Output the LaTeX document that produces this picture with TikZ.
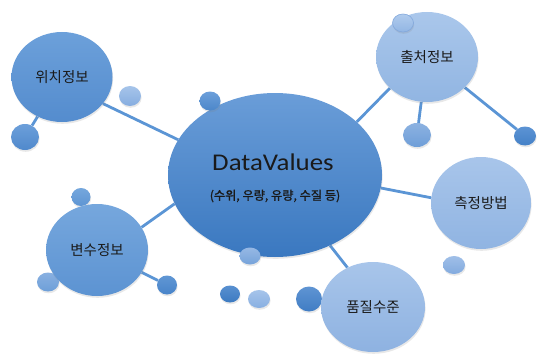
\documentclass[tikz,border=0pt]{standalone}
\usepackage{fontspec}
\setmainfont{Carlito}
\newfontfamily\dv[FakeStretch=1.12]{Carlito}
\newfontfamily\kr{Noto Sans CJK KR}
\newfontfamily\krb[FakeBold=1.3]{Noto Sans CJK KR}
\usetikzlibrary{shapes.geometric,shadows,backgrounds}
\definecolor{lnk}{HTML}{5B95D5}
\definecolor{txt}{HTML}{1A1A1A}
\tikzset{
  bub/.style={ellipse, inner sep=0pt, draw=none,
    drop shadow={opacity=0.18, shadow xshift=0.6pt, shadow yshift=-1.8pt}},
  lbl/.style={text=txt, font=\kr\fontsize{14.5}{16}\selectfont},
  conn/.style={draw=lnk, line width=2.8pt},
}
\begin{document}
\begin{tikzpicture}[x=1pt,y=-1pt]
\useasboundingbox (0,0) rectangle (540,361);

% bubbles behind main circles
\node[bub, top color={rgb,255:red,117;green,167;blue,221}, bottom color={rgb,255:red,94;green,149;blue,211}, minimum width=19pt, minimum height=18pt] (b7) at (81,197) {};
\node[bub, top color={rgb,255:red,137;green,176;blue,225}, bottom color={rgb,255:red,109;green,159;blue,216}, minimum width=22pt, minimum height=19pt] (b8) at (48,282) {};
\node[bub, top color={rgb,255:red,95;green,148;blue,211}, bottom color={rgb,255:red,64;green,125;blue,196}, minimum width=26pt, minimum height=25pt] (b14) at (309,299) {};

% independent bubbles
\node[bub, top color={rgb,255:red,166;green,196;blue,234}, bottom color={rgb,255:red,134;green,173;blue,224}, minimum width=22pt, minimum height=20pt] (b1) at (130,96) {};
\node[bub, top color={rgb,255:red,108;green,159;blue,218}, bottom color={rgb,255:red,80;green,137;blue,204}, minimum width=28pt, minimum height=26pt] (b2) at (25,137) {};
\node[bub, top color={rgb,255:red,140;green,178;blue,225}, bottom color={rgb,255:red,110;green,158;blue,216}, minimum width=28pt, minimum height=24pt] (b5) at (417,135) {};
\node[bub, top color={rgb,255:red,92;green,148;blue,212}, bottom color={rgb,255:red,68;green,128;blue,199}, minimum width=22pt, minimum height=19pt] (b6) at (525,136) {};
\node[bub, top color={rgb,255:red,96;green,150;blue,212}, bottom color={rgb,255:red,72;green,132;blue,201}, minimum width=20pt, minimum height=19pt] (b9) at (167,285) {};
\node[bub, top color={rgb,255:red,88;green,144;blue,208}, bottom color={rgb,255:red,60;green,122;blue,193}, minimum width=20pt, minimum height=17pt] (b11) at (230,294) {};
\node[bub, top color={rgb,255:red,166;green,196;blue,234}, bottom color={rgb,255:red,136;green,175;blue,225}, minimum width=22pt, minimum height=18pt] (b12) at (259,299) {};
\node[bub, top color={rgb,255:red,160;green,191;blue,232}, bottom color={rgb,255:red,130;green,170;blue,222}, minimum width=22pt, minimum height=18pt] (b13) at (454,265) {};

% main circles
\node[bub, top color={rgb,255:red,106;green,157;blue,216}, bottom color={rgb,255:red,58;green,120;blue,192}, minimum width=214pt, minimum height=164pt] (c) at (275,175) {};
\node[font=\dv\fontsize{24}{27}\selectfont, text=txt] (title) at (273,162) {DataValues};
\node[text=txt, font=\krb\fontsize{12.2}{14}\selectfont] (sub) at (275,196) {(수위, 우량, 유량, 수질 등)};

\node[bub, top color={rgb,255:red,108;green,160;blue,218}, bottom color={rgb,255:red,84;green,140;blue,206}, minimum width=101pt, minimum height=90pt, lbl] (wz) at (62,77) {위치정보};
\node[bub, top color={rgb,255:red,170;green,199;blue,235}, bottom color={rgb,255:red,145;green,181;blue,226}, minimum width=102pt, minimum height=90pt, lbl] (src) at (427,57) {출처정보};
\node[bub, top color={rgb,255:red,118;green,167;blue,221}, bottom color={rgb,255:red,92;green,147;blue,210}, minimum width=102pt, minimum height=92pt, lbl] (var) at (97,250) {변수정보};
\node[bub, top color={rgb,255:red,168;green,197;blue,234}, bottom color={rgb,255:red,144;green,180;blue,226}, minimum width=100pt, minimum height=92pt, lbl] (meas) at (481,203) {측정방법};
\node[bub, top color={rgb,255:red,168;green,197;blue,234}, bottom color={rgb,255:red,142;green,178;blue,225}, minimum width=104pt, minimum height=90pt, lbl] (qual) at (373,307) {품질수준};

% bubbles over main circles
\node[bub, top color={rgb,255:red,108;green,159;blue,218}, bottom color={rgb,255:red,76;green,135;blue,202}, minimum width=21pt, minimum height=19pt] (b3) at (210,101) {};
\node[bub, top color={rgb,255:red,150;green,184;blue,228}, bottom color={rgb,255:red,118;green,163;blue,218}, minimum width=21pt, minimum height=17pt] (b10) at (250,256) {};
\node[bub, draw={rgb,255:red,130;green,168;blue,220}, line width=0.6pt, top color={rgb,255:red,176;green,203;blue,237}, bottom color={rgb,255:red,146;green,182;blue,228}, minimum width=21pt, minimum height=18pt] (b4) at (403,23) {};

% connectors
\begin{scope}[on background layer]
  \draw[conn] (wz.-33) -- (c.160);
  \draw[conn] (wz) -- (b2);
  \draw[conn] (src.220) -- (c.33);
  \draw[conn] (src) -- (b5);
  \draw[conn] (src) -- (b6);
  \draw[conn] (c.-7) -- (meas.174);
  \draw[conn] (c.-52) -- (qual.123);
  \draw[conn] (c.196) -- (var.27);
  \draw[conn] (var) -- (b9);
\end{scope}
\end{tikzpicture}
\end{document}
